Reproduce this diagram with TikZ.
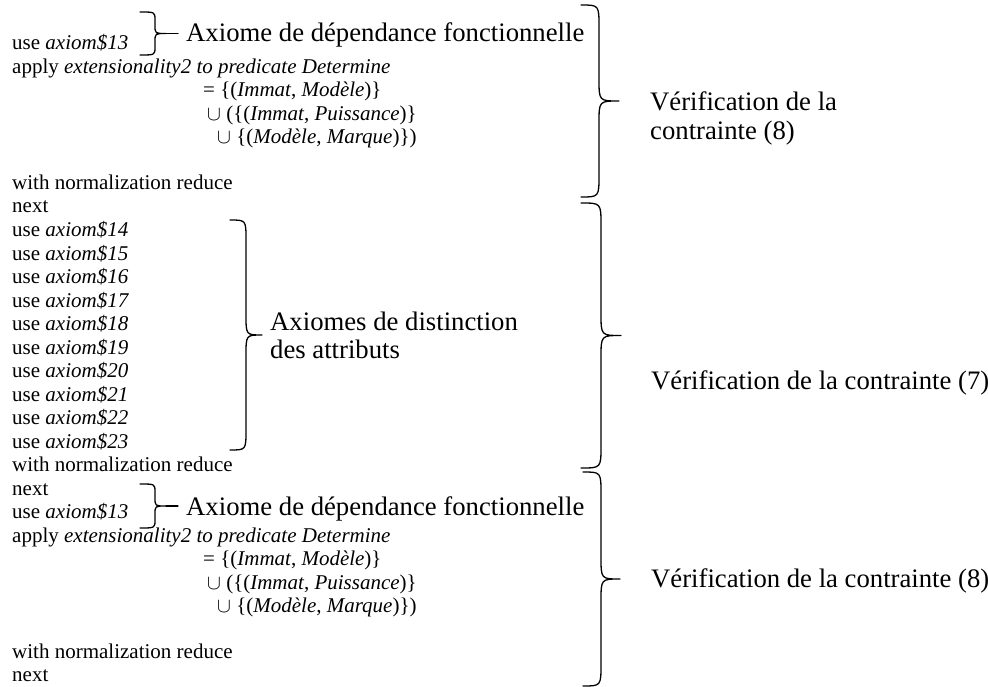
\documentclass[tikz,border=0pt]{standalone}
\usepackage{fontspec}
\setmainfont{Liberation Serif}

% right-facing curly brace: #1 name, #2 left x, #3 spine x, #4 tip x, #5 top y, #6 bottom y, #7 bend
\newcommand{\curlybrace}[7]{%
  \pgfmathsetmacro{\bmid}{(#5+#6)/2}%
  \draw[bracestroke] (#2,#5) .. controls (#3,#5) .. (#3,{#5+#7})
    -- (#3,{\bmid-#7}) .. controls (#3,\bmid) .. (#4,\bmid)
    .. controls (#3,\bmid) .. (#3,{\bmid+#7})
    -- (#3,{#6-#7}) .. controls (#3,#6) .. (#2,#6);
  \coordinate (#1) at (#4,\bmid);
}

\begin{document}
\begin{tikzpicture}[x=1pt,y=-1pt,
  codeline/.style={anchor=base west, inner sep=0pt, font=\fontsize{21}{23.5}\selectfont},
  notelabel/.style={anchor=base west, inner sep=0pt, align=left,
                    font=\fontsize{26.7}{27.5}\selectfont},
  bracestroke/.style={line width=1.3pt, line cap=round, line join=round}]
\useasboundingbox (0,0) rectangle (988,687);

% ---- first block: constraint (8)
\node[codeline] (u1)  at (12,50)    {use \textit{axiom\$13}};
\node[codeline] (ap1) at (12,73.5)  {apply \textit{extensionality2 to predicate Determine}};
\node[codeline] (e1)  at (203,97)   {= \{(\textit{Immat}, \textit{Modèle})\}};
\node[codeline] (c1)  at (207,120.5) {$\cup$ (\{(\textit{Immat}, \textit{Puissance})\}};
\node[codeline] (d1)  at (217,144)  {$\cup$ \{(\textit{Modèle}, \textit{Marque})\})};
\node[codeline] (w1)  at (12,189.5) {with normalization reduce};
\node[codeline] (n1)  at (12,213)   {next};

% ---- second block: constraint (7)
\foreach \k in {14,...,23}{
  \node[codeline] (ax\k) at (12,{236.5+(\k-14)*23.5}) {use \textit{axiom\$\k}};
}
\node[codeline] (w2)  at (12,471.5) {with normalization reduce};
\node[codeline] (n2)  at (12,495)   {next};

% ---- third block: constraint (8)
\node[codeline] (u3)  at (12,518.5) {use \textit{axiom\$13}};
\node[codeline] (ap3) at (12,542)   {apply \textit{extensionality2 to predicate Determine}};
\node[codeline] (e3)  at (203,565.5) {= \{(\textit{Immat}, \textit{Modèle})\}};
\node[codeline] (c3)  at (207,589)  {$\cup$ (\{(\textit{Immat}, \textit{Puissance})\}};
\node[codeline] (d3)  at (217,612.5) {$\cup$ \{(\textit{Modèle}, \textit{Marque})\})};
\node[codeline] (w3)  at (12,658)   {with normalization reduce};
\node[codeline] (n3)  at (12,681.5) {next};

% ---- small braces for the functional dependency axiom
\curlybrace{fd1}{140}{155}{166}{12}{55}{8}
\draw[bracestroke] (fd1) -- ++(12,0) coordinate (fd1e);
\node[notelabel] (fdl1) at (186,42) {Axiome de dépendance fonctionnelle};

\curlybrace{fd3}{140}{155}{166}{484}{528}{8}
\draw[bracestroke] (fd3) -- ++(12,0) coordinate (fd3e);
\node[notelabel] (fdl3) at (186,515) {Axiome de dépendance fonctionnelle};

% ---- brace for the attribute distinction axioms
% (base anchor of a two-line label is the baseline of its last line)
\curlybrace{dist}{230}{246}{262}{220}{450}{20}
\node[notelabel] (distl) at (270,358) {Axiomes de distinction\\des attributs};

% ---- large braces for the constraints
\curlybrace{v1}{581}{599}{619}{5}{197}{22}
\node[notelabel, font=\fontsize{26.7}{29}\selectfont] (vl1) at (650,140)
  {Vérification de la\\contrainte (8)};

\curlybrace{v2}{581}{601}{621}{203}{468}{22}
\node[notelabel] (vl2) at (651,389) {Vérification de la contrainte (7)};

\curlybrace{v3}{583}{601}{620}{472}{686}{22}
\node[notelabel] (vl3) at (651,587) {Vérification de la contrainte (8)};
\end{tikzpicture}
\end{document}
